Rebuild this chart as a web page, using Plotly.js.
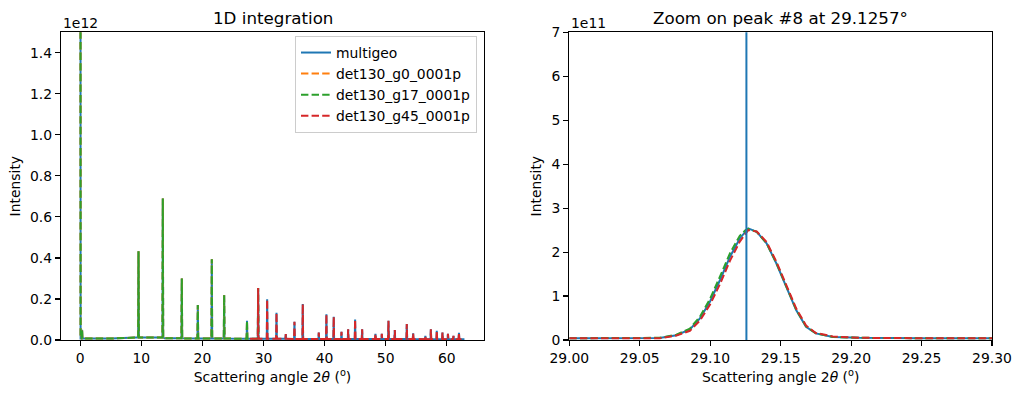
<!DOCTYPE html>
<html><head><meta charset="utf-8">
<script src="https://cdn.plot.ly/plotly-3.0.1.min.js"></script>
<style>html,body{margin:0;padding:0;background:#fff}#chart{width:1021px;height:398px}</style>
</head><body><div id="chart"></div>
<script>
// ---------- data ----------
const seriesNames  = ['multigeo', 'det130_g0_0001p', 'det130_g17_0001p', 'det130_g45_0001p'];
const seriesColors = ['#1f77b4', '#ff7f0e', '#2ca02c', '#d62728'];
const seriesDash   = ['solid', '7.4px,3.2px', '7.4px,3.2px', '7.4px,3.2px'];
// angular coverage of each curve (deg)
const coverageStart = [0, 0, 0, 27.8];
const coverageEnd   = [62.9, 27.8, 29.5, 62.9];

// Left panel: diffraction peaks (2θ in deg, intensity)
const peakPos = [0.0, 0.3, 9.54, 13.52, 16.63, 19.25, 21.54, 23.56, 27.3, 29.1257, 30.6, 32.13,
  33.65, 35.07, 36.43, 39.05, 40.3, 41.5, 42.77, 43.86, 45.0, 46.15, 48.33, 49.37, 50.46, 51.5,
  53.46, 54.5, 56.5, 57.4, 58.37, 59.3, 60.2, 61.1, 62.0];
const peakHeight = [6.0e12, 0.05e12, 0.433e12, 0.69e12, 0.30e12, 0.17e12, 0.394e12, 0.219e12, 0.094e12,
  0.254e12, 0.198e12, 0.133e12, 0.029e12, 0.089e12, 0.175e12, 0.036e12, 0.126e12, 0.113e12, 0.04e12,
  0.052e12, 0.10e12, 0.052e12, 0.03e12, 0.03e12, 0.094e12, 0.049e12, 0.078e12, 0.033e12, 0.02e12,
  0.052e12, 0.045e12, 0.036e12, 0.03e12, 0.02e12, 0.035e12];
// background level between peaks
const bgPos   = [0.6, 5.0, 9.2, 13.3, 13.8, 20.0, 30.0, 40.0, 50.0, 62.9];
const bgLevel = [0.007e12, 0.007e12, 0.012e12, 0.012e12, 0.008e12, 0.007e12, 0.006e12, 0.005e12, 0.005e12, 0.004e12];

// Right panel: zoom on peak #8
const zoomPeak = 29.1257;
const zoomX = [29.0, 29.04, 29.064, 29.076, 29.0856, 29.0927, 29.0998, 29.1069, 29.114, 29.121, 29.1251,
  29.127, 29.133, 29.140, 29.147, 29.154, 29.161, 29.168, 29.175, 29.187, 29.206, 29.25, 29.3];
const zoomMultigeo = [0.04e11, 0.04e11, 0.045e11, 0.11e11, 0.24e11, 0.49e11, 0.87e11, 1.36e11, 1.89e11, 2.31e11,
  2.46e11, 2.54e11, 2.46e11, 2.20e11, 1.74e11, 1.21e11, 0.68e11, 0.30e11, 0.15e11, 0.07e11, 0.05e11, 0.04e11, 0.04e11];
const zoomG17 = [0.04e11, 0.04e11, 0.05e11, 0.12e11, 0.26e11, 0.53e11, 0.93e11, 1.44e11, 1.97e11, 2.37e11,
  2.50e11, 2.53e11, 2.46e11, 2.20e11, 1.75e11, 1.22e11, 0.69e11, 0.31e11, 0.15e11, 0.07e11, 0.05e11, 0.04e11, 0.04e11];
const zoomG45 = [0.04e11, 0.04e11, 0.04e11, 0.10e11, 0.21e11, 0.44e11, 0.80e11, 1.27e11, 1.80e11, 2.24e11,
  2.43e11, 2.50e11, 2.47e11, 2.23e11, 1.78e11, 1.26e11, 0.72e11, 0.33e11, 0.16e11, 0.08e11, 0.05e11, 0.04e11, 0.04e11];

// tick labels
const leftXTicks = [0, 10, 20, 30, 40, 50, 60];
const leftYTickVals = [0, 0.2e12, 0.4e12, 0.6e12, 0.8e12, 1.0e12, 1.2e12, 1.4e12];
const leftYTickText = ['0.0', '0.2', '0.4', '0.6', '0.8', '1.0', '1.2', '1.4'];
const rightXTicks = [29.0, 29.05, 29.1, 29.15, 29.2, 29.25, 29.3];
const rightXTickText = ['29.00', '29.05', '29.10', '29.15', '29.20', '29.25', '29.30'];
const rightYTickVals = [0, 1e11, 2e11, 3e11, 4e11, 5e11, 6e11, 7e11];
const rightYTickText = ['0', '1', '2', '3', '4', '5', '6', '7'];

// ---------- build ----------
function nearestBg(x) {
  let best = 0;
  for (let i = 1; i < bgPos.length; i++) if (Math.abs(bgPos[i] - x) < Math.abs(bgPos[best] - x)) best = i;
  return bgLevel[best];
}
function buildSeries(k) {
  const pts = [];
  const a = coverageStart[k], b = coverageEnd[k];
  bgPos.forEach((p, i) => { if (p >= a && p <= b) pts.push([p, bgLevel[i]]); });
  if (a > 0) pts.push([a, nearestBg(a)]);
  peakPos.forEach((p, i) => {
    if (p < a || p > b) return;
    const base = nearestBg(p), w = 0.06;
    if (p - w >= a) pts.push([p - w, base]);
    pts.push([p, peakHeight[i]]);
    if (p + w <= b) pts.push([p + w, base]);
  });
  pts.sort((u, v) => u[0] - v[0]);
  return {x: pts.map(q => q[0]), y: pts.map(q => q[1])};
}

const traces = [];
seriesNames.forEach((name, k) => {
  const s = buildSeries(k);
  traces.push({x: s.x, y: s.y, type: 'scatter', mode: 'lines', name: name,
    line: {color: seriesColors[k], width: 2, dash: seriesDash[k]}, xaxis: 'x', yaxis: 'y'});
});
const zoomSeries = [[0, zoomMultigeo], [2, zoomG17], [3, zoomG45]];
zoomSeries.forEach(([k, ys]) => {
  traces.push({x: zoomX, y: ys, type: 'scatter', mode: 'lines', name: seriesNames[k], showlegend: false,
    line: {color: seriesColors[k], width: 2, dash: seriesDash[k]}, xaxis: 'x2', yaxis: 'y2'});
});

const W = 1021, H = 398;
const font = {family: 'DejaVu Sans', size: 13.9, color: '#000'};
const titleFont = {family: 'DejaVu Sans', size: 16.7, color: '#000'};
const axBase = {showline: true, mirror: true, linecolor: '#000', linewidth: 1.1, ticks: 'outside', ticklen: 5,
  tickwidth: 1.1, tickcolor: '#000', showgrid: false, zeroline: false, tickfont: font};

const layout = {
  width: W, height: H, margin: {l: 0, r: 0, t: 0, b: 0},
  paper_bgcolor: '#fff', plot_bgcolor: '#fff', font: font,
  xaxis: Object.assign({}, axBase, {domain: [61 / W, 484 / W], range: [-3.15, 66.1], tickvals: leftXTicks,
    title: {text: 'Scattering angle 2<i>θ</i> (<sup>o</sup>)', font: font, standoff: 7}, anchor: 'y'}),
  yaxis: Object.assign({}, axBase, {domain: [1 - 340 / H, 1 - 32.3 / H], range: [0, 1.5e12],
    tickvals: leftYTickVals, ticktext: leftYTickText, title: {text: 'Intensity', font: font, standoff: 6}, anchor: 'x'}),
  xaxis2: Object.assign({}, axBase, {domain: [569.3 / W, 992 / W], range: [29.0, 29.3], tickvals: rightXTicks,
    ticktext: rightXTickText, title: {text: 'Scattering angle 2<i>θ</i> (<sup>o</sup>)', font: font, standoff: 7}, anchor: 'y2'}),
  yaxis2: Object.assign({}, axBase, {domain: [1 - 340 / H, 1 - 32.3 / H], range: [0, 7e11],
    tickvals: rightYTickVals, ticktext: rightYTickText, title: {text: 'Intensity', font: font, standoff: 6}, anchor: 'x2'}),
  shapes: [{type: 'line', xref: 'x2', yref: 'y2 domain', x0: zoomPeak, x1: zoomPeak, y0: 0, y1: 1,
    line: {color: '#1f77b4', width: 2}}],
  legend: {x: 477 / W, y: 1 - 36 / H, xanchor: 'right', yanchor: 'top', bgcolor: 'rgba(255,255,255,0.8)',
    bordercolor: '#cccccc', borderwidth: 1, font: font, tracegroupgap: 0},
  annotations: [
    {text: '1D integration', xref: 'paper', yref: 'paper', x: (61 + 484) / 2 / W, y: 1 - 18 / H,
      xanchor: 'center', yanchor: 'middle', showarrow: false, font: titleFont},
    {text: 'Zoom on peak #8 at 29.1257°', xref: 'paper', yref: 'paper', x: (569.3 + 992) / 2 / W, y: 1 - 18 / H,
      xanchor: 'center', yanchor: 'middle', showarrow: false, font: titleFont},
    {text: '1e12', xref: 'paper', yref: 'paper', x: 61 / W, y: 1 - 23 / H, xanchor: 'left', yanchor: 'middle',
      showarrow: false, font: font},
    {text: '1e11', xref: 'paper', yref: 'paper', x: 569 / W, y: 1 - 23 / H, xanchor: 'left', yanchor: 'middle',
      showarrow: false, font: font}
  ]
};
Plotly.newPlot('chart', traces, layout, {displayModeBar: false, staticPlot: true});
</script>
</body></html>
